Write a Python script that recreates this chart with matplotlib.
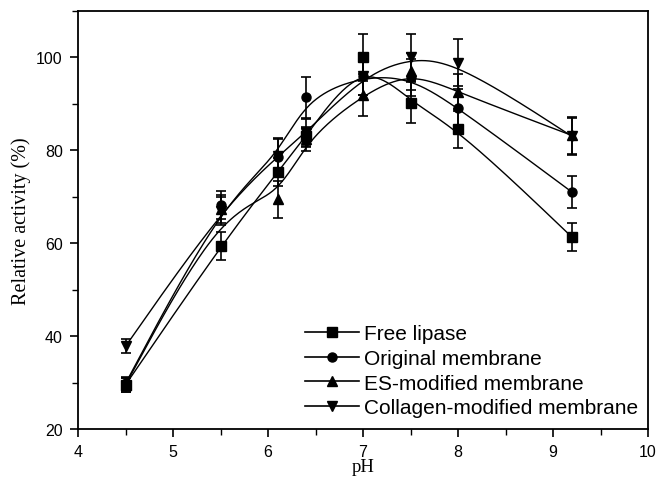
import numpy as np
import matplotlib
matplotlib.use("Agg")
import matplotlib.pyplot as plt
from matplotlib.lines import Line2D
from matplotlib.ticker import MultipleLocator

ph = [4.5, 5.5, 6.1, 6.4, 7.0, 7.5, 8.0, 9.2]

free_lipase = [29.5, 59.4, 75.3, 83.0, 100.0, 90.3, 84.7, 61.3]
free_err = [1.5, 3.0, 3.0, 2.0, 5.0, 4.5, 4.3, 3.0]

original = [29.8, 68.2, 78.5, 91.4, 96.0, 95.7, 89.2, 71.0]
original_err = [1.5, 3.0, 4.0, 4.5, 4.0, 4.0, 4.0, 3.5]

es_mod = [29.5, 67.3, 69.5, 82.4, 92.0, 97.0, 92.5, 83.2]
es_err = [1.5, 3.0, 4.0, 2.5, 4.5, 4.0, 4.0, 4.0]

collagen = [37.8, 67.0, 78.7, 83.8, 96.0, 100.0, 98.9, 83.0]
collagen_err = [1.5, 3.0, 4.0, 3.0, 4.0, 5.0, 5.0, 4.0]

labels = ["Free lipase", "Original membrane", "ES-modified membrane",
          "Collagen-modified membrane"]
markers = ["s", "o", "^", "v"]
series = [free_lipase, original, es_mod, collagen]
errors = [free_err, original_err, es_err, collagen_err]

xticks = [4, 5, 6, 7, 8, 9, 10]
yticks = [20, 40, 60, 80, 100]


def bspline(x, y, n=40):
    P = np.column_stack([x, y]).astype(float)
    P = np.vstack([P[0], P[0], P, P[-1], P[-1]])
    M = np.array([[-1, 3, -3, 1], [3, -6, 3, 0], [-3, 0, 3, 0], [1, 4, 1, 0]]) / 6.0
    t = np.linspace(0, 1, n)
    T = np.column_stack([t ** 3, t ** 2, t, np.ones_like(t)])
    pts = []
    for i in range(len(P) - 3):
        pts.append(T @ M @ P[i:i + 4])
    pts = np.vstack(pts)
    return pts[:, 0], pts[:, 1]


fig = plt.figure(figsize=(6.56, 4.81), dpi=100)
ax = fig.add_axes([0.1189, 0.106, 0.869, 0.869])

for ys, es, m, lab in zip(series, errors, markers, labels):
    cx, cy = bspline(ph, ys)
    ax.plot(cx, cy, color="black", lw=1.0)
    ax.errorbar(ph, ys, yerr=es, fmt="none", ecolor="black", elinewidth=1.2,
                capsize=3.5, capthick=1.2)
    ax.plot(ph, ys, linestyle="none", marker=m, color="black", markersize=6.5)

ax.set_xlim(4, 10)
ax.set_ylim(20, 110)
ax.set_xticks(xticks)
ax.set_yticks(yticks)
ax.xaxis.set_minor_locator(MultipleLocator(0.5))
ax.yaxis.set_minor_locator(MultipleLocator(10))
ax.tick_params(which="major", direction="out", length=6, width=1.2,
               labelsize=11.5, pad=5)
ax.tick_params(which="minor", direction="out", length=4, width=1.0)
for lab in ax.get_xticklabels() + ax.get_yticklabels():
    lab.set_family("Liberation Sans")
for s in ax.spines.values():
    s.set_linewidth(1.3)

ax.set_xlabel("pH", family="Liberation Serif", fontsize=13.5, labelpad=-1)
ax.set_ylabel("Relative activity (%)", family="Liberation Serif", fontsize=14.5,
              labelpad=4)

handles = [Line2D([], [], color="black", lw=1.2, marker=m, markersize=6.5)
           for m in markers]
ax.legend(handles, labels, loc="lower left", bbox_to_anchor=(0.38, 0.003),
          frameon=False, borderpad=0, handlelength=2.6, handletextpad=0.25,
          labelspacing=0.27, prop={"family": "Liberation Sans", "size": 15})

fig.savefig("out.png", dpi=100)
